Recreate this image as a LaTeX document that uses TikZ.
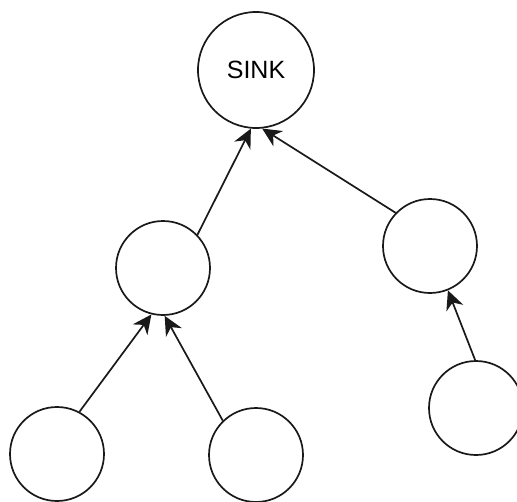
\documentclass[tikz,border=0pt]{standalone}
\usepackage{fontspec}
\setmainfont{Liberation Sans}
\usetikzlibrary{arrows.meta}
\begin{document}
\begin{tikzpicture}[x=1pt,y=-1pt,
  vert/.style={draw=black!90,circle,line width=1.7pt,inner sep=0pt,minimum size=94pt},
  big/.style={minimum size=116pt},
  conn/.style={line width=1.7pt,draw=black!90,-{Stealth[length=19pt,width=18pt,inset=6pt]}}]
\useasboundingbox (0,0) rectangle (517,501);
\node[vert,big,font=\fontsize{25}{25}\selectfont] (sink) at (256,70) {SINK};
\node[vert] (ml) at (163,268) {};
\node[vert] (mr) at (430,246) {};
\node[vert] (bl) at (57,454) {};
\node[vert] (bm) at (256,455) {};
\node[vert] (br) at (476,408) {};
\draw[conn] (ml.44) -- (sink.-95);
\draw[conn] (mr.136) -- (sink.-84);
\draw[conn] (bl.62) -- (ml.-104);
\draw[conn] (bm.134) -- (ml.-88);
\draw[conn] (br.91) -- (mr.-68);
\end{tikzpicture}
\end{document}
